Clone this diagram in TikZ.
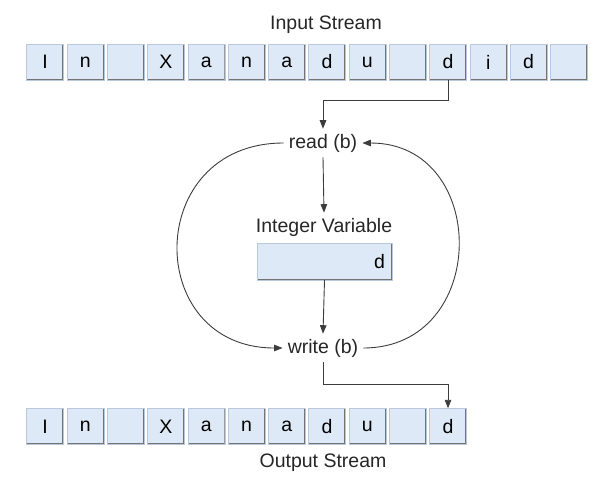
\documentclass[tikz,border=0pt]{standalone}
\usepackage{fontspec}
\setmainfont{Liberation Sans}
\usetikzlibrary{arrows.meta}

\definecolor{cellblue}{RGB}{221,233,246}
\definecolor{cellline}{RGB}{185,200,218}
\definecolor{wirecol}{RGB}{60,60,60}

\tikzset{
  cell/.style={draw=cellline, fill=cellblue, minimum width=37pt, minimum height=36pt, inner sep=0pt,
    path picture={\draw[black!55, line width=2.4pt]
      (path picture bounding box.north east) -- (path picture bounding box.south east)
      -- (path picture bounding box.south west);}},
  wire/.style={draw=wirecol, line width=0.9pt},
  flow/.style={wire, -{Triangle[length=8.5pt,width=6.5pt]}},
  lbl/.style={inner sep=5pt, text=black!85},
}

\begin{document}
\begin{tikzpicture}[x=1pt, y=-1pt, font=\fontsize{19.5}{22}\selectfont]
            \useasboundingbox (0,0) rectangle (608,498);
            \def\dx{40.3}

            % streams
            \foreach \ch [count=\k from 0] in {I,n,{},X,a,n,a,d,u,{},d,i,d,{}}
                \node[cell] (in\k) at ({45+\k*\dx},62) {\ch};
            \foreach \ch [count=\k from 0] in {I,n,{},X,a,n,a,d,u,{},d}
                \node[cell] (out\k) at ({45+\k*\dx},426.5) {\ch};

            \node[lbl] (instream) at (326,25) {Input Stream};
            \node[lbl] (outstream) at (323,463) {Output Stream};

            % loop
            \node[lbl] (read) at (323,143) {read (b)};
            \node[lbl] (intlabel) at (324,227) {Integer Variable};
            \node[cell, minimum width=135pt, minimum height=37pt, text width=121pt, align=right] (intvar) at (324.5,261.5) {d};
            \node[lbl] (write) at (323,348) {write (b)};

            \draw[flow] (in10.south) -- ++(0,20) -| (read.north);
            \draw[flow] (read.south) -- (intlabel.north);
            \draw[flow] (intvar.south) -- (write.north);
            \draw[flow] (read.west) .. controls (143,143) and (143,348) .. (write.west);
            \draw[flow] (write.east) .. controls (490,348) and (490,143) .. (read.east);
            \draw[flow] (write.south) -- ++(0,22) -| (out10.north);
        \end{tikzpicture}
\end{document}
